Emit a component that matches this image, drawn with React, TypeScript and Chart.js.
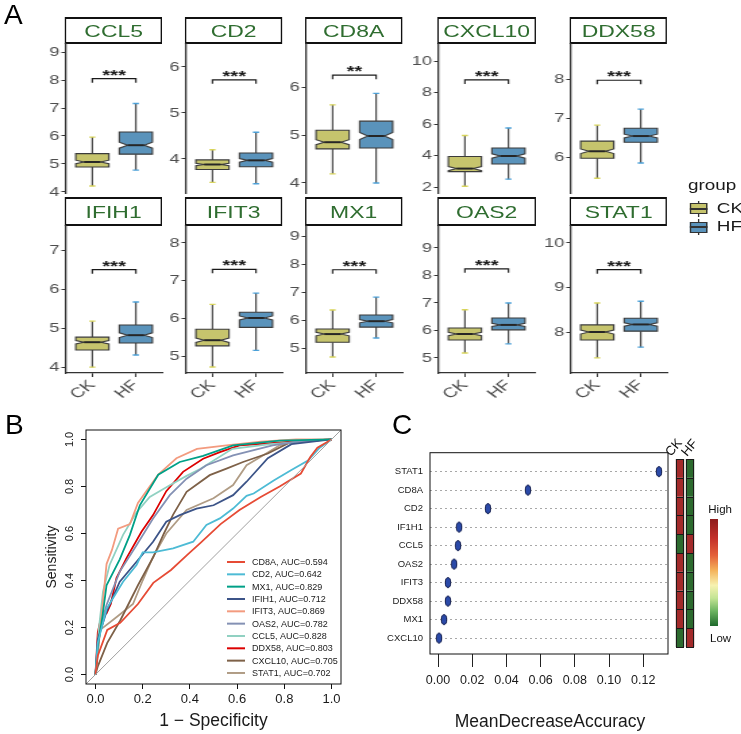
import React, { useEffect, useRef } from "react";
import { Chart, registerables } from "chart.js";
Chart.register(...registerables);

const FONT = "'Liberation Sans', Arial, Helvetica, sans-serif";
Chart.defaults.font.family = FONT;

// ---------------- Panel A data ----------------
const GENES = ["CCL5", "CD2", "CD8A", "CXCL10", "DDX58", "IFIH1", "IFIT3", "MX1", "OAS2", "STAT1"];
const GROUPS = ["CK", "HF"];
const CK_MIN = [4.21, 3.49, 4.19, 2.05, 5.46, 4.0, 4.71, 4.68, 5.18, 7.42];
const CK_Q1 = [4.89, 3.77, 4.71, 2.98, 5.97, 4.44, 5.27, 5.21, 5.65, 7.82];
const CK_MED = [5.07, 3.88, 4.85, 3.17, 6.15, 4.64, 5.42, 5.5, 5.87, 8.0];
const CK_Q3 = [5.37, 3.98, 5.1, 3.94, 6.41, 4.77, 5.71, 5.68, 6.09, 8.16];
const CK_MAX = [5.96, 4.2, 5.63, 5.27, 6.82, 5.18, 6.37, 6.36, 6.75, 8.65];
const HF_MIN = [4.78, 3.46, 4.0, 2.5, 5.85, 4.31, 5.15, 5.36, 5.51, 7.66];
const HF_Q1 = [5.35, 3.83, 4.73, 3.46, 6.38, 4.62, 5.76, 5.75, 6.02, 8.02];
const HF_MED = [5.67, 3.97, 4.98, 3.97, 6.54, 4.82, 6.01, 5.96, 6.2, 8.17];
const HF_Q3 = [6.14, 4.13, 5.29, 4.48, 6.74, 5.08, 6.16, 6.18, 6.45, 8.31];
const HF_MAX = [7.16, 4.58, 5.87, 5.75, 7.23, 5.67, 6.67, 6.82, 7.0, 8.69];
const Y_MIN = [3.96, 3.26, 3.79, 1.62, 5.08, 3.85, 4.55, 4.11, 4.45, 7.08];
const Y_MAX = [9.29, 6.5, 6.9, 11.08, 8.9, 7.62, 8.45, 9.36, 9.8, 10.38];
const Y_TICKS = [
  [4, 5, 6, 7, 8, 9],
  [4, 5, 6],
  [4, 5, 6],
  [2, 4, 6, 8, 10],
  [6, 7, 8],
  [4, 5, 6, 7],
  [5, 6, 7, 8],
  [5, 6, 7, 8, 9],
  [5, 6, 7, 8, 9],
  [8, 9, 10],
];
const SIG_Y = [8.05, 5.72, 6.25, 8.8, 7.97, 6.5, 7.3, 7.8, 8.24, 9.4];
const SIG_LABEL = ["***", "***", "**", "***", "***", "***", "***", "***", "***", "***"];
const N_PER_GROUP = 140;

// ---------------- Panel B data ----------------
const ROC_GENES = ["CD8A", "CD2", "MX1", "IFIH1", "IFIT3", "OAS2", "CCL5", "DDX58", "CXCL10", "STAT1"];
const ROC_AUC = ["0.594", "0.642", "0.829", "0.712", "0.869", "0.782", "0.828", "0.803", "0.705", "0.702"];
const ROC_COLORS = ["#E64B35", "#4DBBD5", "#00A087", "#3C5488", "#F39B7F", "#8491B4", "#91D1C2", "#DC0000", "#7E6148", "#B09C85"];
const ROC_CD8A: [number, number][] = [[0, 0], [0.01, 0.08], [0.05, 0.19], [0.105, 0.22], [0.18, 0.3], [0.245, 0.39], [0.32, 0.445], [0.39, 0.51], [0.445, 0.56], [0.53, 0.64], [0.61, 0.7], [0.7, 0.755], [0.78, 0.8], [0.87, 0.855], [0.91, 0.925], [0.94, 0.965], [1, 1]];
const ROC_CD2: [number, number][] = [[0, 0], [0.01, 0.135], [0.047, 0.28], [0.117, 0.395], [0.174, 0.466], [0.2, 0.52], [0.244, 0.52], [0.329, 0.537], [0.414, 0.565], [0.47, 0.636], [0.527, 0.664], [0.583, 0.706], [0.64, 0.76], [0.67, 0.77], [0.755, 0.825], [0.83, 0.87], [0.9, 0.91], [0.95, 0.965], [1, 1]];
const ROC_MX1: [number, number][] = [[0, 0], [0.01, 0.12], [0.03, 0.25], [0.047, 0.38], [0.103, 0.49], [0.146, 0.594], [0.188, 0.72], [0.266, 0.85], [0.357, 0.904], [0.456, 0.93], [0.583, 0.975], [0.78, 0.995], [1, 1]];
const ROC_IFIH1: [number, number][] = [[0, 0], [0.01, 0.15], [0.047, 0.268], [0.103, 0.395], [0.174, 0.48], [0.244, 0.565], [0.3, 0.65], [0.357, 0.678], [0.428, 0.706], [0.5, 0.72], [0.583, 0.763], [0.64, 0.82], [0.73, 0.92], [0.83, 0.98], [1, 1]];
const ROC_IFIT3: [number, number][] = [[0, 0], [0.01, 0.1], [0.025, 0.24], [0.047, 0.47], [0.07, 0.53], [0.096, 0.62], [0.146, 0.64], [0.18, 0.73], [0.216, 0.78], [0.266, 0.85], [0.343, 0.92], [0.43, 0.96], [0.555, 0.975], [0.7, 0.99], [0.85, 1], [1, 1]];
const ROC_OAS2: [number, number][] = [[0, 0], [0.02, 0.2], [0.047, 0.296], [0.103, 0.438], [0.174, 0.55], [0.244, 0.664], [0.315, 0.763], [0.386, 0.833], [0.47, 0.89], [0.583, 0.932], [0.75, 0.975], [0.85, 0.99], [1, 1]];
const ROC_CCL5: [number, number][] = [[0, 0], [0.015, 0.2], [0.032, 0.353], [0.06, 0.466], [0.117, 0.594], [0.174, 0.69], [0.23, 0.755], [0.315, 0.805], [0.386, 0.845], [0.445, 0.875], [0.58, 0.96], [0.74, 0.98], [1, 1]];
const ROC_DDX58: [number, number][] = [[0, 0], [0.01, 0.18], [0.025, 0.25], [0.047, 0.26], [0.065, 0.3], [0.089, 0.41], [0.131, 0.494], [0.195, 0.607], [0.244, 0.678], [0.3, 0.78], [0.371, 0.862], [0.456, 0.918], [0.527, 0.946], [0.61, 0.975], [0.83, 0.99], [1, 1]];
const ROC_CXCL10: [number, number][] = [[0, 0], [0.01, 0.035], [0.05, 0.135], [0.105, 0.23], [0.18, 0.38], [0.245, 0.5], [0.29, 0.6], [0.329, 0.68], [0.386, 0.777], [0.484, 0.848], [0.555, 0.876], [0.625, 0.904], [0.73, 0.94], [0.83, 0.99], [1, 1]];
const ROC_STAT1: [number, number][] = [[0, 0], [0.02, 0.19], [0.09, 0.245], [0.159, 0.3], [0.2, 0.4], [0.244, 0.5], [0.3, 0.6], [0.386, 0.7], [0.5, 0.75], [0.583, 0.806], [0.64, 0.89], [0.69, 0.92], [0.78, 0.975], [0.84, 0.99], [1, 1]];
const ROC_DATA = [ROC_CD8A, ROC_CD2, ROC_MX1, ROC_IFIH1, ROC_IFIT3, ROC_OAS2, ROC_CCL5, ROC_DDX58, ROC_CXCL10, ROC_STAT1];
const ROC_TICKS = [0, 0.2, 0.4, 0.6, 0.8, 1.0];

// ---------------- Panel C data ----------------
const MDA_GENES = ["CXCL10", "MX1", "DDX58", "IFIT3", "OAS2", "CCL5", "IF1H1", "CD2", "CD8A", "STAT1"]; // bottom -> top
const MDA_VALUES = [0.0006, 0.0035, 0.0058, 0.0058, 0.0094, 0.0117, 0.0123, 0.0292, 0.0526, 0.1292];
const MDA_TICKS = [0, 0.02, 0.04, 0.06, 0.08, 0.1, 0.12];
const HEAT_CK = [0, 1, 1, 1, 1, 0, 1, 1, 1, 1]; // 1 = high
const HEAT_HF = [1, 0, 0, 0, 0, 1, 0, 0, 0, 0];

// ---------------- styling ----------------
const S = 1.35; // horizontal stretch of panel A
const COL_X = [66, 186, 306, 439, 571];
const PANEL_W = 96;
const ROW_TOP = [44, 226];
const ROW_BOTTOM = [193, 373];
const STRIP_TOP = [17, 197];
const FILLS = ["#c6c46d", "#5a93bb"];
const CAPS = ["#d8d45a", "#4aa0d8"];
const BOX_HALF = 0.38;
const CAP_HALF = 0.07;
const HIGH_C = "#a32a2a";
const LOW_C = "#2c6a2e";

function Txt(props: { x: number; y: number; size: number; text: string; color?: string; align?: string; rotate?: number; weight?: number | string }) {
  const { x, y, size, text, color = "#000", align = "left", rotate = 0, weight = 400 } = props;
  const tx = align === "left" ? "0%" : align === "center" ? "-50%" : "-100%";
  const ox = align === "left" ? "0%" : align === "center" ? "50%" : "100%";
  return (
    <div
      style={{
        position: "absolute",
        left: x,
        top: y - 0.8465 * size,
        fontFamily: FONT,
        fontSize: size,
        lineHeight: `${size}px`,
        color,
        whiteSpace: "nowrap",
        fontWeight: weight as any,
        transform: `translateX(${tx})${rotate ? ` rotate(${rotate}deg)` : ""}`,
        transformOrigin: `${ox} ${0.8465 * size}px`,
      }}
    >
      {text}
    </div>
  );
}

function makeBoxPlugin(i: number) {
  return {
    id: "boxDraw",
    afterDatasetsDraw(chart: any) {
      const { ctx } = chart;
      const x = chart.scales.x;
      const y = chart.scales.y;
      const stats = [
        [CK_MIN[i], CK_Q1[i], CK_MED[i], CK_Q3[i], CK_MAX[i]],
        [HF_MIN[i], HF_Q1[i], HF_MED[i], HF_Q3[i], HF_MAX[i]],
      ];
      stats.forEach((s, g) => {
        const cx = x.getPixelForValue(g + 1);
        const hw = x.getPixelForValue(g + 1 + BOX_HALF) - cx;
        const cw = x.getPixelForValue(g + 1 + CAP_HALF) - cx;
        const [mn, q1, md, q3, mx] = s.map((v) => y.getPixelForValue(v));
        const notch = (1.58 * (s[3] - s[1])) / Math.sqrt(N_PER_GROUP);
        const nUp = y.getPixelForValue(Math.min(s[2] + notch, s[3]));
        const nLo = y.getPixelForValue(Math.max(s[2] - notch, s[1]));
        ctx.save();
        ctx.strokeStyle = "#3b3b3b";
        ctx.lineWidth = 1.1;
        ctx.beginPath();
        ctx.moveTo(cx, q3);
        ctx.lineTo(cx, mx);
        ctx.moveTo(cx, q1);
        ctx.lineTo(cx, mn);
        ctx.stroke();
        ctx.strokeStyle = CAPS[g];
        ctx.lineWidth = 1.4;
        ctx.beginPath();
        ctx.moveTo(cx - cw, mx);
        ctx.lineTo(cx + cw, mx);
        ctx.moveTo(cx - cw, mn);
        ctx.lineTo(cx + cw, mn);
        ctx.stroke();
        ctx.beginPath();
        ctx.moveTo(cx - hw, q3);
        ctx.lineTo(cx + hw, q3);
        ctx.lineTo(cx + hw, nUp);
        ctx.lineTo(cx + hw * 0.5, md);
        ctx.lineTo(cx + hw, nLo);
        ctx.lineTo(cx + hw, q1);
        ctx.lineTo(cx - hw, q1);
        ctx.lineTo(cx - hw, nLo);
        ctx.lineTo(cx - hw * 0.5, md);
        ctx.lineTo(cx - hw, nUp);
        ctx.closePath();
        ctx.fillStyle = FILLS[g];
        ctx.fill();
        ctx.strokeStyle = "#3b3b3b";
        ctx.lineWidth = 1.1;
        ctx.stroke();
        ctx.strokeStyle = "#262626";
        ctx.lineWidth = 2;
        ctx.beginPath();
        ctx.moveTo(cx - hw * 0.5, md);
        ctx.lineTo(cx + hw * 0.5, md);
        ctx.stroke();
        ctx.restore();
      });
      const x1 = x.getPixelForValue(1);
      const x2 = x.getPixelForValue(2);
      const sy = y.getPixelForValue(SIG_Y[i]);
      ctx.save();
      ctx.strokeStyle = "#1a1a1a";
      ctx.lineWidth = 1.1;
      ctx.beginPath();
      ctx.moveTo(x1, sy + 4);
      ctx.lineTo(x1, sy);
      ctx.lineTo(x2, sy);
      ctx.lineTo(x2, sy + 4);
      ctx.stroke();
      ctx.fillStyle = "#1a1a1a";
      ctx.font = `bold 15px ${FONT}`;
      ctx.textAlign = "center";
      ctx.textBaseline = "alphabetic";
      ctx.fillText(SIG_LABEL[i], (x1 + x2) / 2, sy + 1);
      ctx.restore();
    },
  };
}

function BoxPanel({ i }: { i: number }) {
  const ref = useRef<HTMLCanvasElement>(null);
  const row = i < 5 ? 0 : 1;
  const col = i % 5;
  const yAxisW = 30;
  const padR = 4;
  const padT = 10;
  const left = COL_X[col] / S - yAxisW;
  const top = ROW_TOP[row] - padT;
  const bottomArea = row === 0 ? 10 : 40;
  const W = Math.round(yAxisW + PANEL_W / S + padR);
  const H = ROW_BOTTOM[row] - ROW_TOP[row] + padT + bottomArea;
  useEffect(() => {
    const tickFont = { family: FONT, size: 13.5 };
    const xScale: any =
      row === 0
        ? { type: "linear", min: 0.4, max: 2.6, display: false }
        : {
            type: "linear",
            min: 0.4,
            max: 2.6,
            afterBuildTicks: (s: any) => {
              s.ticks = [{ value: 1 }, { value: 2 }];
            },
            afterFit: (s: any) => {
              s.height = bottomArea;
            },
            ticks: {
              callback: (v: any) => GROUPS[Math.round(v) - 1],
              minRotation: 45,
              maxRotation: 45,
              autoSkip: false,
              color: "#4d4d4d",
              font: { family: FONT, size: 14 },
              padding: 0,
            },
            grid: { display: true, drawOnChartArea: false, drawTicks: true, tickLength: 4, color: "#333" },
            border: { display: true, color: "#333", width: 1.3 },
          };
    const chart = new Chart(ref.current as HTMLCanvasElement, {
      type: "scatter",
      data: {
        datasets: [
          {
            data: [
              { x: 1, y: CK_MED[i] },
              { x: 2, y: HF_MED[i] },
            ],
            pointRadius: 0,
          },
        ],
      },
      options: {
        responsive: false,
        animation: false,
        events: [],
        layout: { padding: { top: padT, right: padR, left: 0, bottom: row === 0 ? 10 : 0 } },
        plugins: { legend: { display: false }, tooltip: { enabled: false } },
        scales: {
          x: xScale,
          y: {
            type: "linear",
            min: Y_MIN[i],
            max: Y_MAX[i],
            afterBuildTicks: (s: any) => {
              s.ticks = Y_TICKS[i].map((v) => ({ value: v }));
            },
            afterFit: (s: any) => {
              s.width = yAxisW;
            },
            ticks: { color: "#4d4d4d", font: tickFont, padding: 1.5 },
            grid: { display: true, drawOnChartArea: false, drawTicks: true, tickLength: 3.5, color: "#333" },
            border: { display: true, color: "#333", width: 1.3 },
          },
        },
      } as any,
      plugins: [makeBoxPlugin(i)],
    });
    return () => chart.destroy();
  }, []);
  return <canvas ref={ref} width={W} height={H} style={{ position: "absolute", left, top, width: W, height: H }} />;
}

function Strip({ i }: { i: number }) {
  const row = i < 5 ? 0 : 1;
  const col = i % 5;
  const top = STRIP_TOP[row];
  const h = ROW_TOP[row] - top;
  return (
    <div
      style={{
        position: "absolute",
        left: COL_X[col] / S - 0.8,
        top,
        width: (PANEL_W + 1.5) / S,
        height: h,
        boxSizing: "border-box",
        border: "2.2px solid #111",
        borderLeftWidth: 1.9,
        borderRightWidth: 1.9,
        display: "flex",
        alignItems: "center",
        justifyContent: "center",
        fontFamily: FONT,
        fontSize: 17,
        lineHeight: "17px",
        color: "#2f6d30",
        paddingTop: 1,
        background: "#fff",
      }}
    >
      {GENES[i]}
    </div>
  );
}

function LegendKey({ x, y, g }: { x: number; y: number; g: number }) {
  return (
    <div style={{ position: "absolute", left: x, top: y - 2.5, width: 13.6, height: 16 }}>
      <div style={{ position: "absolute", left: 6.3, top: 0, width: 1, height: 16, background: "#333" }} />
      <div
        style={{
          position: "absolute",
          left: 0,
          top: 2.5,
          width: 13.6,
          height: 11,
          boxSizing: "border-box",
          border: "1.2px solid #333",
          background: FILLS[g],
        }}
      />
      <div style={{ position: "absolute", left: 0, top: 7.3, width: 13.6, height: 1.6, background: "#333" }} />
    </div>
  );
}

function RocPanel() {
  const ref = useRef<HTMLCanvasElement>(null);
  const W = 321;
  const H = 314;
  useEffect(() => {
    const deco = {
      id: "rocDeco",
      afterDraw(chart: any) {
        const { ctx, chartArea: a } = chart;
        const y = chart.scales.y;
        ctx.save();
        ctx.strokeStyle = "#111";
        ctx.lineWidth = 1;
        ctx.strokeRect(a.left, a.top, a.right - a.left, a.bottom - a.top);
        ctx.fillStyle = "#1a1a1a";
        ctx.font = `11px ${FONT}`;
        ctx.textAlign = "center";
        ctx.textBaseline = "middle";
        ROC_TICKS.forEach((v) => {
          ctx.save();
          ctx.translate(a.left - 16, y.getPixelForValue(v));
          ctx.rotate(-Math.PI / 2);
          ctx.fillText(v.toFixed(1), 0, 0);
          ctx.restore();
        });
        ctx.font = `14px ${FONT}`;
        ctx.save();
        ctx.translate(a.left - 34.3, (a.top + a.bottom) / 2);
        ctx.rotate(-Math.PI / 2);
        ctx.fillText("Sensitivity", 0, 0);
        ctx.restore();
        ctx.font = `17.5px ${FONT}`;
        ctx.textBaseline = "alphabetic";
        ctx.fillText("1 \u2212 Specificity", (a.left + a.right) / 2, a.bottom + 41.7);
        // legend
        ctx.font = `9px ${FONT}`;
        ctx.textAlign = "left";
        ctx.textBaseline = "middle";
        ROC_GENES.forEach((g, k) => {
          const ly = a.top + 132 + k * 12.33;
          ctx.strokeStyle = ROC_COLORS[k];
          ctx.lineWidth = 2;
          ctx.beginPath();
          ctx.moveTo(a.left + 141, ly);
          ctx.lineTo(a.left + 159, ly);
          ctx.stroke();
          ctx.fillStyle = "#1a1a1a";
          ctx.fillText(`${g}, AUC=${ROC_AUC[k]}`, a.left + 166, ly + 0.5);
        });
        ctx.restore();
      },
    };
    const datasets: any[] = [
      {
        label: "diag",
        data: [
          { x: -0.04, y: -0.04 },
          { x: 1.04, y: 1.04 },
        ],
        showLine: true,
        borderColor: "#a0a0a0",
        borderWidth: 1,
        pointRadius: 0,
      },
    ];
    ROC_GENES.forEach((g, k) => {
      datasets.push({
        label: g,
        data: ROC_DATA[k].map(([fx, ty]) => ({ x: fx, y: ty })),
        showLine: true,
        borderColor: ROC_COLORS[k],
        borderWidth: 1.8,
        pointRadius: 0,
        fill: false,
      });
    });
    const chart = new Chart(ref.current as HTMLCanvasElement, {
      type: "scatter",
      data: { datasets },
      options: {
        responsive: false,
        animation: false,
        events: [],
        layout: { padding: { top: 10, right: 10, left: 0, bottom: 0 } },
        plugins: { legend: { display: false }, tooltip: { enabled: false } },
        scales: {
          x: {
            type: "linear",
            min: -0.04,
            max: 1.04,
            afterBuildTicks: (s: any) => {
              s.ticks = ROC_TICKS.map((v) => ({ value: v }));
            },
            afterFit: (s: any) => {
              s.height = 50;
            },
            ticks: { callback: (v: any) => Number(v).toFixed(1), color: "#1a1a1a", font: { size: 13 }, padding: 3, maxRotation: 0, autoSkip: false },
            grid: { display: true, drawOnChartArea: false, drawTicks: true, tickLength: 5, color: "#111" },
            border: { display: false },
          },
          y: {
            type: "linear",
            min: -0.04,
            max: 1.04,
            afterBuildTicks: (s: any) => {
              s.ticks = ROC_TICKS.map((v) => ({ value: v }));
            },
            afterFit: (s: any) => {
              s.width = 56;
            },
            ticks: { display: false },
            grid: { display: true, drawOnChartArea: false, drawTicks: true, tickLength: 5, color: "#111" },
            border: { display: false },
          },
        },
      } as any,
      plugins: [deco],
    });
    return () => chart.destroy();
  }, []);
  return <canvas ref={ref} width={W} height={H} style={{ position: "absolute", left: 30, top: 420, width: W, height: H }} />;
}

function MdaPanel() {
  const ref = useRef<HTMLCanvasElement>(null);
  const W = 310;
  const H = 294;
  useEffect(() => {
    const dot = document.createElement("canvas");
    dot.width = 8;
    dot.height = 13;
    const g = dot.getContext("2d") as CanvasRenderingContext2D;
    g.beginPath();
    g.ellipse(4, 6.5, 2.7, 4.9, 0, 0, Math.PI * 2);
    g.fillStyle = "#2b4aa8";
    g.fill();
    g.lineWidth = 1;
    g.strokeStyle = "#101a48";
    g.stroke();
    const deco = {
      id: "mdaDeco",
      afterDraw(chart: any) {
        const { ctx, chartArea: a } = chart;
        ctx.save();
        ctx.strokeStyle = "#111";
        ctx.lineWidth = 1;
        ctx.strokeRect(a.left, a.top, a.right - a.left, a.bottom - a.top);
        ctx.fillStyle = "#1a1a1a";
        ctx.font = `17.5px ${FONT}`;
        ctx.textAlign = "center";
        ctx.textBaseline = "alphabetic";
        ctx.fillText("MeanDecreaseAccuracy", (a.left + a.right) / 2 + 1, a.bottom + 73);
        ctx.restore();
      },
    };
    const chart = new Chart(ref.current as HTMLCanvasElement, {
      type: "scatter",
      data: {
        datasets: [
          {
            data: MDA_VALUES.map((v, k) => ({ x: v, y: k + 1 })),
            pointStyle: dot,
            pointRadius: 4,
          },
        ],
      },
      options: {
        responsive: false,
        animation: false,
        events: [],
        layout: { padding: { top: 11, right: 12, left: 0, bottom: 0 } },
        plugins: { legend: { display: false }, tooltip: { enabled: false } },
        scales: {
          x: {
            type: "linear",
            min: -0.0047,
            max: 0.1345,
            afterBuildTicks: (s: any) => {
              s.ticks = MDA_TICKS.map((v) => ({ value: v }));
            },
            afterFit: (s: any) => {
              s.height = 80;
            },
            ticks: { callback: (v: any) => Number(v).toFixed(2), color: "#1a1a1a", font: { size: 12.5 }, padding: 6, maxRotation: 0, autoSkip: false },
            grid: { display: true, drawOnChartArea: false, drawTicks: true, tickLength: 13, color: "#222" },
            border: { display: false },
          },
          y: {
            type: "linear",
            min: 0.14,
            max: 11.02,
            afterBuildTicks: (s: any) => {
              s.ticks = MDA_GENES.map((_, k) => ({ value: k + 1 }));
            },
            afterFit: (s: any) => {
              s.width = 60;
            },
            ticks: { callback: (v: any) => MDA_GENES[Math.round(v) - 1], color: "#1a1a1a", font: { size: 9.5 }, padding: 7, autoSkip: false },
            grid: { display: true, drawOnChartArea: true, drawTicks: false, color: "#a8a8a8", lineWidth: 1 },
            border: { display: false, dash: [2, 3] },
          },
        },
      } as any,
      plugins: [deco],
    });
    return () => chart.destroy();
  }, []);
  return <canvas ref={ref} width={W} height={H} style={{ position: "absolute", left: 370, top: 440, width: W, height: H }} />;
}

function HeatPanel() {
  const ref = useRef<HTMLCanvasElement>(null);
  const W = 30;
  const H = 197;
  useEffect(() => {
    const outline = {
      id: "cellOutline",
      afterDatasetsDraw(chart: any) {
        const { ctx } = chart;
        ctx.save();
        ctx.strokeStyle = "#1a1a1a";
        ctx.lineWidth = 1;
        chart.data.datasets.forEach((_: any, d: number) => {
          chart.getDatasetMeta(d).data.forEach((el: any) => {
            const p = el.getProps(["x", "y", "base", "width"], true);
            const l = Math.round(p.x - p.width / 2) + 0.5;
            const r = Math.round(p.x + p.width / 2) - 0.5;
            const t = Math.round(Math.min(p.y, p.base)) + 0.5;
            const b = Math.round(Math.max(p.y, p.base)) + 0.5;
            ctx.strokeRect(l, t, r - l, b - t);
          });
        });
        ctx.restore();
      },
    };
    const chart = new Chart(ref.current as HTMLCanvasElement, {
      type: "bar",
      data: {
        labels: GROUPS,
        datasets: MDA_GENES.map((g, r) => ({
          label: g,
          data: [1, 1],
          backgroundColor: [HEAT_CK[r] ? HIGH_C : LOW_C, HEAT_HF[r] ? HIGH_C : LOW_C],
          borderWidth: 0,
          barPercentage: 1,
          categoryPercentage: 0.84,
          stack: "s",
        })),
      },
      options: {
        responsive: false,
        animation: false,
        events: [],
        layout: { padding: { top: 4, right: 5, left: 5, bottom: 5 } },
        plugins: { legend: { display: false }, tooltip: { enabled: false } },
        scales: {
          x: { display: false, stacked: true },
          y: { display: false, stacked: true, min: 0, max: 10 },
        },
      } as any,
      plugins: [outline],
    });
    return () => chart.destroy();
  }, []);
  return <canvas ref={ref} width={W} height={H} style={{ position: "absolute", left: 670, top: 455, width: W, height: H }} />;
}

export default function App() {
  useEffect(() => {
    document.body.style.margin = "0";
  }, []);
  const idx = GENES.map((_, i) => i);
  return (
    <div style={{ position: "fixed", left: 0, top: 0, width: 741, height: 734, background: "#fff", overflow: "hidden" }}>
      {/* Panel A (horizontally stretched like the source figure) */}
      <div style={{ position: "absolute", left: 0, top: 0, width: 741 / S, height: 420, transform: `scaleX(${S})`, transformOrigin: "0 0" }}>
        {idx.map((i) => (
          <Strip key={"s" + i} i={i} />
        ))}
        {idx.map((i) => (
          <BoxPanel key={"b" + i} i={i} />
        ))}
        <Txt x={509.6} y={190} size={14} text="group" color="#1a1a1a" />
        <LegendKey x={510.6} y={203.3} g={0} />
        <LegendKey x={510.6} y={221.7} g={1} />
        <Txt x={531} y={212.7} size={14} text="CK" color="#1a1a1a" />
        <Txt x={531} y={230.7} size={14} text="HF" color="#1a1a1a" />
      </div>
      <Txt x={4} y={25} size={28} text="A" />
      <Txt x={5} y={435} size={28} text="B" />
      <Txt x={392} y={435} size={28} text="C" />
      <RocPanel />
      <MdaPanel />
      <HeatPanel />
      <Txt x={671} y={457} size={13} text="CK" color="#111" rotate={-50} />
      <Txt x={687} y={457} size={13} text="HF" color="#111" rotate={-50} />
      <Txt x={708.3} y={513.3} size={11.5} text="High" color="#111" />
      <div
        style={{
          position: "absolute",
          left: 710,
          top: 519.3,
          width: 8.3,
          height: 106.7,
          background: "linear-gradient(to bottom, #8e1c1c 0%, #c3302a 18%, #e4603a 34%, #f4b25a 48%, #f7f2b0 62%, #c3e494 74%, #6cb461 86%, #1f6a2c 100%)",
        }}
      />
      <Txt x={710} y={642.3} size={11.5} text="Low" color="#111" />
    </div>
  );
}
